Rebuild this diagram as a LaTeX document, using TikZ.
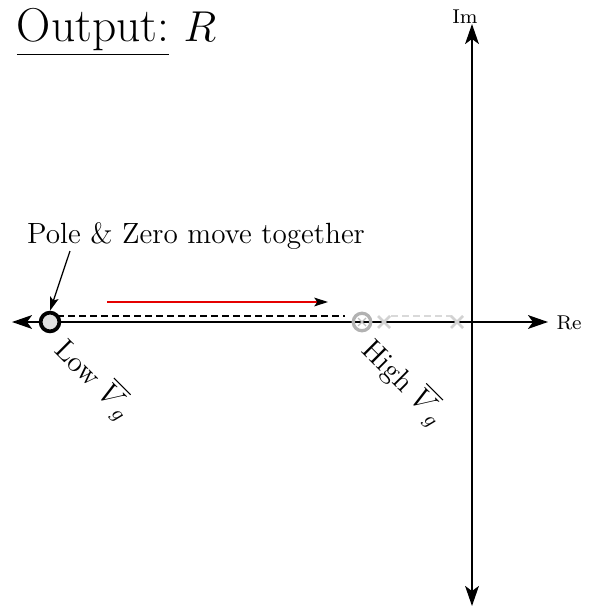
\documentclass[tikz,border=0pt]{standalone}
\usetikzlibrary{arrows.meta}
\begin{document}
\begin{tikzpicture}[x=0.4pt,y=-0.4pt,
  axis/.style={line width=0.8pt,-{Stealth[length=8pt,width=5.5pt,inset=2pt]}},
  xmark/.style={gray!35,line width=1pt},
  lbl/.style={font=\fontsize{11.7}{14}\selectfont}]
\useasboundingbox (0,0) rectangle (591,606);
% axes
\coordinate (O) at (472,322);
\coordinate (xl) at (12,322);
\coordinate (xr) at (548,322);
\coordinate (yt) at (472,24);
\coordinate (yb) at (472,606);
\draw[axis] (O) -- (xl);
\draw[axis] (O) -- (xr);
\draw[axis] (O) -- (yt);
\draw[axis] (O) -- (yb);
\node[font=\footnotesize,anchor=west,inner sep=0pt] (re) at (556,323) {Re};
\node[font=\footnotesize,inner sep=0pt] (im) at (465,17) {Im};
% dashed lines
\coordinate (d1) at (57,316);
\coordinate (d2) at (345,316);
\draw[dash pattern=on 2.6pt off 1.8pt,line width=0.6pt] (d1) -- (d2);
\coordinate (g1) at (391,316);
\coordinate (g2) at (452,316);
\draw[dash pattern=on 2.6pt off 1.8pt,gray!30,line width=0.6pt] (g1) -- (g2);
% crosses
\foreach \cx in {384,457}{
  \draw[xmark] (\cx-6,316) -- (\cx+6,328) (\cx-6,328) -- (\cx+6,316);
}
% high pole
\node[circle,draw=gray!60,line width=1.3pt,minimum size=7pt,inner sep=0pt] (hp) at (362,322) {};
\draw[gray!50,line width=0.5pt] (358,318) -- (366,326) (358,326) -- (366,318);
% low pole
\node[circle,draw=black,fill=gray!25,line width=1.5pt,minimum size=7.5pt,inner sep=0pt] (lp) at (50,322) {};
% red arrow
\coordinate (r1) at (107,302);
\coordinate (r2) at (328,302);
\draw[red!90!black,line width=0.45pt,-{Stealth[black,length=5.5pt,width=3.5pt,inset=1.2pt]}] (r1) -- (r2);
% annotation
\node[lbl] (pz) at (196,236) {Pole \& Zero move together};
\draw[line width=0.5pt,-{Stealth[length=5.5pt,width=3.5pt,inset=1.2pt]}] (70,251) -- (lp.north);
% labels
\node[lbl,rotate=-45,anchor=west,inner sep=0pt] (low) at (59,345) {Low $\overline{V}_g$};
\node[lbl,rotate=-45,anchor=west,inner sep=0pt] (high) at (366,345) {High $\overline{V}_g$};
% title
\node[font=\fontsize{19}{22}\selectfont,anchor=west] (title) at (8,32) {\underline{Output:} $R$};
\end{tikzpicture}
\end{document}
